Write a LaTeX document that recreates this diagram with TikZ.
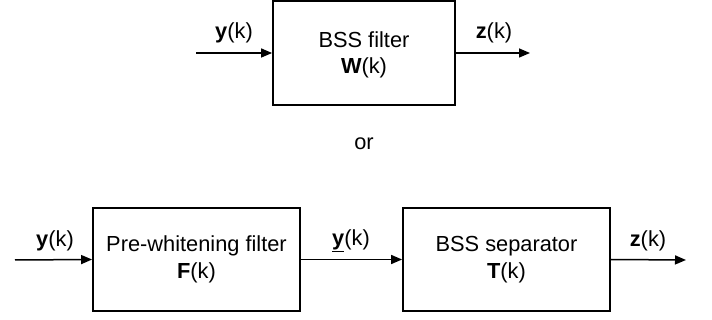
\documentclass[tikz,border=0pt]{standalone}
\usepackage{fontspec}
\setmainfont{Liberation Sans}
\usetikzlibrary{arrows.meta}
\begin{document}
\begin{tikzpicture}[x=1pt,y=-1pt,
  blk/.style={draw,line width=1.8pt,inner sep=0pt},
  lbl/.style={font=\fontsize{21.8}{26}\selectfont,inner sep=0pt},
  sig/.style={line width=1.5pt,-{Triangle[length=11pt,width=9pt]}},
  every node/.style={font=\fontsize{21.8}{26}\selectfont}]
\useasboundingbox (0,0) rectangle (712,320);
% top
\node[blk,minimum width=182pt,minimum height=104pt] (W) at (364,53) {};
\node[lbl] (Wt1) at (364,40) {BSS filter};
\node[lbl] (Wt2) at (364,68) {\textbf{W}(k)};
\coordinate (inT) at (196,53);
\coordinate (outT) at (530,53);
\draw[sig] (inT) -- (W.west);
\draw[sig] (W.east) -- (outT);
\node[lbl] (yT) at (234,33) {\textbf{y}(k)};
\node[lbl] (zT) at (494,33) {\textbf{z}(k)};
% or
\node[lbl] (or) at (364,144) {or};
% bottom
\node[blk,minimum width=207pt,minimum height=103pt] (F) at (196.5,259.5) {};
\node[lbl] (Ft1) at (196.5,246) {Pre-whitening filter};
\node[lbl] (Ft2) at (196.5,273) {\textbf{F}(k)};
\node[blk,minimum width=207pt,minimum height=103pt] (T) at (506.5,259.5) {};
\node[lbl] (Tt1) at (506.5,246) {BSS separator};
\node[lbl] (Tt2) at (506.5,273) {\textbf{T}(k)};
\coordinate (inB) at (15,260);
\coordinate (outB) at (686,260);
\draw[sig] (inB) -- (F.west);
\draw[sig] (F.east) -- (T.west);
\draw[sig] (T.east) -- (outB);
\node[lbl] (yB) at (55,241) {\textbf{y}(k)};
\node[lbl] (ymid) at (351,241) {\underline{\textbf{y}}(k)};
\node[lbl] (zB) at (648,241) {\textbf{z}(k)};
\end{tikzpicture}
\end{document}
